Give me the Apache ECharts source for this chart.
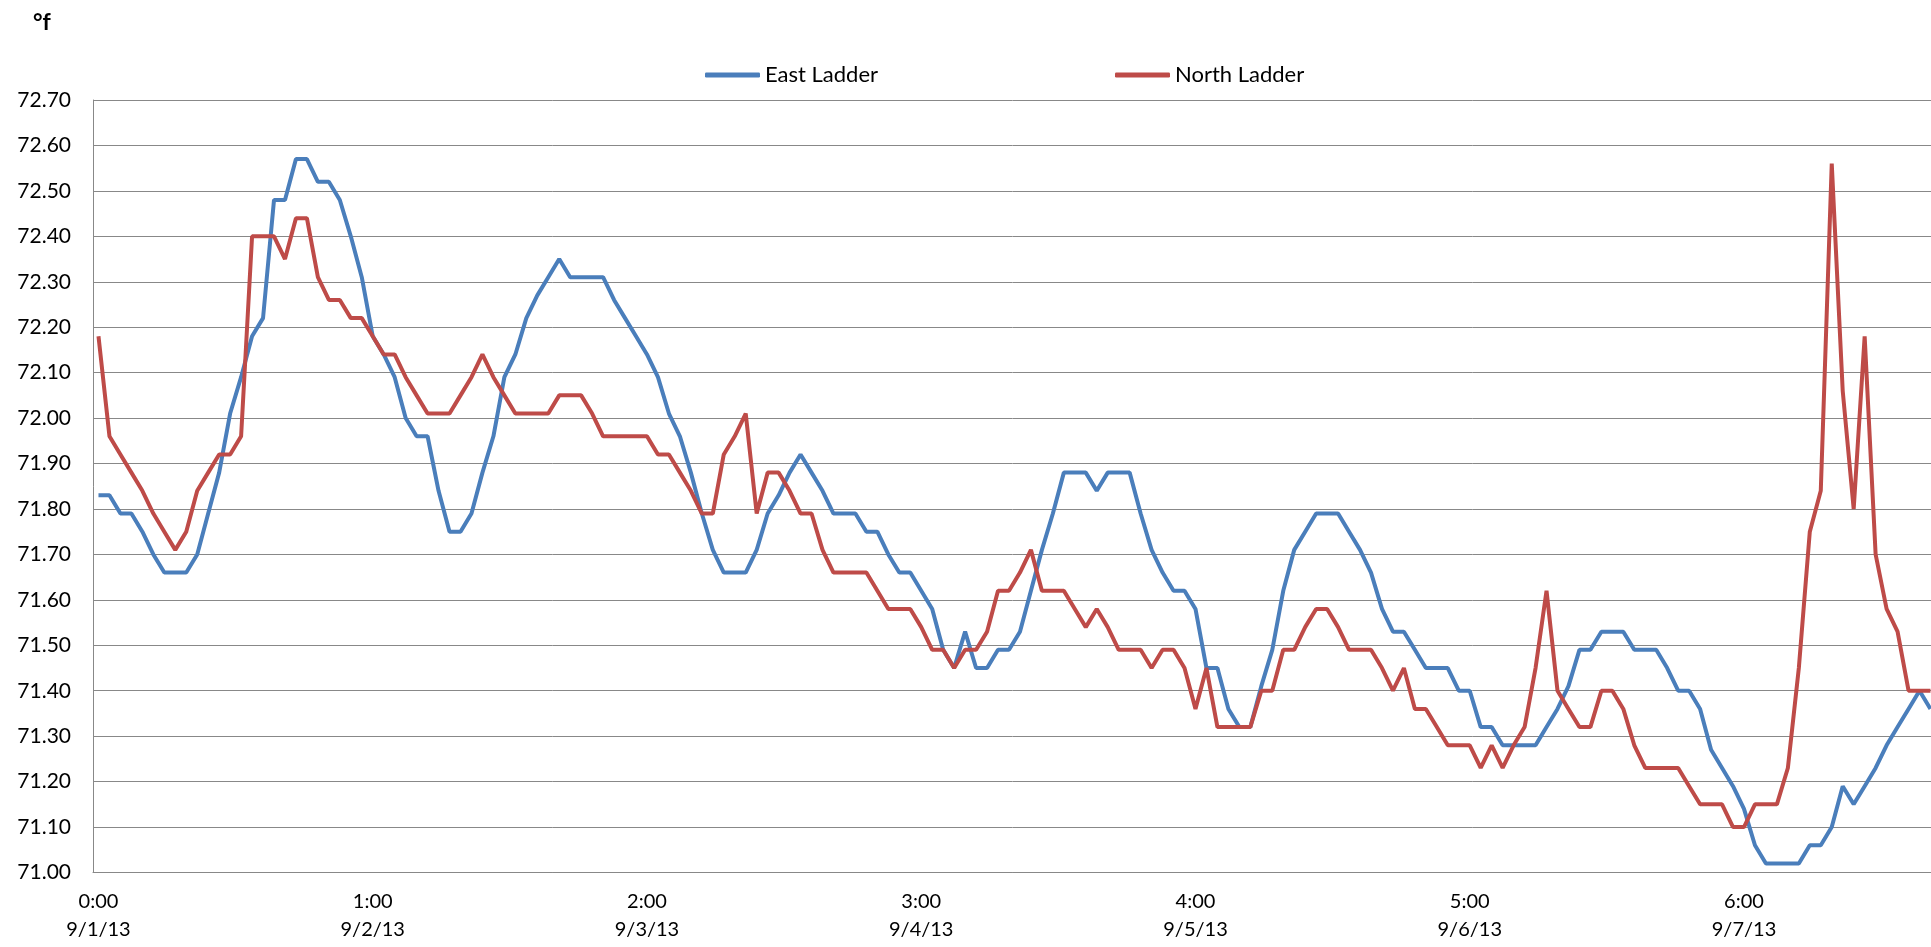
<!DOCTYPE html>
<html>
<head>
<meta charset="utf-8">
<script src="https://cdn.jsdelivr.net/npm/echarts@6/dist/echarts.min.js"></script>
<style>
    html, body { margin: 0; padding: 0; background: #fff; }
    #main { width: 1931px; height: 947px; }
</style>
</head>
<body>
<div id="main"></div>
<script>
// tick labels, one every 25 readings
const tickLabels = ['0:00\n9/1/13', '1:00\n9/2/13', '2:00\n9/3/13', '3:00\n9/4/13', '4:00\n9/5/13', '5:00\n9/6/13', '6:00\n9/7/13'];
const pointsPerTick = 25;

const eastLadder = [
    71.83, 71.83, 71.79, 71.79, 71.75, 71.70, 71.66, 71.66, 71.66, 71.70,
    71.79, 71.88, 72.01, 72.09, 72.18, 72.22, 72.48, 72.48, 72.57, 72.57,
    72.52, 72.52, 72.48, 72.40, 72.31, 72.18, 72.14, 72.09, 72.00, 71.96,
    71.96, 71.84, 71.75, 71.75, 71.79, 71.88, 71.96, 72.09, 72.14, 72.22,
    72.27, 72.31, 72.35, 72.31, 72.31, 72.31, 72.31, 72.26, 72.22, 72.18,
    72.14, 72.09, 72.01, 71.96, 71.88, 71.79, 71.71, 71.66, 71.66, 71.66,
    71.71, 71.79, 71.83, 71.88, 71.92, 71.88, 71.84, 71.79, 71.79, 71.79,
    71.75, 71.75, 71.70, 71.66, 71.66, 71.62, 71.58, 71.49, 71.45, 71.53,
    71.45, 71.45, 71.49, 71.49, 71.53, 71.62, 71.71, 71.79, 71.88, 71.88,
    71.88, 71.84, 71.88, 71.88, 71.88, 71.79, 71.71, 71.66, 71.62, 71.62,
    71.58, 71.45, 71.45, 71.36, 71.32, 71.32, 71.41, 71.49, 71.62, 71.71,
    71.75, 71.79, 71.79, 71.79, 71.75, 71.71, 71.66, 71.58, 71.53, 71.53,
    71.49, 71.45, 71.45, 71.45, 71.40, 71.40, 71.32, 71.32, 71.28, 71.28,
    71.28, 71.28, 71.32, 71.36, 71.41, 71.49, 71.49, 71.53, 71.53, 71.53,
    71.49, 71.49, 71.49, 71.45, 71.40, 71.40, 71.36, 71.27, 71.23, 71.19,
    71.14, 71.06, 71.02, 71.02, 71.02, 71.02, 71.06, 71.06, 71.10, 71.19,
    71.15, 71.19, 71.23, 71.28, 71.32, 71.36, 71.40, 71.36
];

const northLadder = [
    72.18, 71.96, 71.92, 71.88, 71.84, 71.79, 71.75, 71.71, 71.75, 71.84,
    71.88, 71.92, 71.92, 71.96, 72.40, 72.40, 72.40, 72.35, 72.44, 72.44,
    72.31, 72.26, 72.26, 72.22, 72.22, 72.18, 72.14, 72.14, 72.09, 72.05,
    72.01, 72.01, 72.01, 72.05, 72.09, 72.14, 72.09, 72.05, 72.01, 72.01,
    72.01, 72.01, 72.05, 72.05, 72.05, 72.01, 71.96, 71.96, 71.96, 71.96,
    71.96, 71.92, 71.92, 71.88, 71.84, 71.79, 71.79, 71.92, 71.96, 72.01,
    71.79, 71.88, 71.88, 71.84, 71.79, 71.79, 71.71, 71.66, 71.66, 71.66,
    71.66, 71.62, 71.58, 71.58, 71.58, 71.54, 71.49, 71.49, 71.45, 71.49,
    71.49, 71.53, 71.62, 71.62, 71.66, 71.71, 71.62, 71.62, 71.62, 71.58,
    71.54, 71.58, 71.54, 71.49, 71.49, 71.49, 71.45, 71.49, 71.49, 71.45,
    71.36, 71.45, 71.32, 71.32, 71.32, 71.32, 71.40, 71.40, 71.49, 71.49,
    71.54, 71.58, 71.58, 71.54, 71.49, 71.49, 71.49, 71.45, 71.40, 71.45,
    71.36, 71.36, 71.32, 71.28, 71.28, 71.28, 71.23, 71.28, 71.23, 71.28,
    71.32, 71.45, 71.62, 71.40, 71.36, 71.32, 71.32, 71.40, 71.40, 71.36,
    71.28, 71.23, 71.23, 71.23, 71.23, 71.19, 71.15, 71.15, 71.15, 71.10,
    71.10, 71.15, 71.15, 71.15, 71.23, 71.45, 71.75, 71.84, 72.56, 72.06,
    71.80, 72.18, 71.70, 71.58, 71.53, 71.40, 71.40, 71.40
];

const categories = eastLadder.map((v, i) => String(i));

const font = 'Lato, "Open Sans", sans-serif';
const gridColor = '#888888';
const catWidth = 10.97; // px per reading, the plot runs past the right edge

const myChart = echarts.init(document.getElementById('main'));
const option = {
    animation: false,
    backgroundColor: '#fff',
    title: {
        text: '°f',
        left: 28,
        top: 6,
        textStyle: { fontFamily: font, fontSize: 23, fontWeight: 'bold', color: '#000' }
    },
    legend: [
        {
            data: ['East Ladder'],
            left: 700,
            top: 59,
            icon: 'roundRect',
            itemWidth: 55,
            itemHeight: 5,
            itemGap: 6,
            textStyle: { fontFamily: font, fontSize: 22, color: '#000' }
        },
        {
            data: ['North Ladder'],
            left: 1110,
            top: 59,
            icon: 'roundRect',
            itemWidth: 55,
            itemHeight: 5,
            itemGap: 6,
            textStyle: { fontFamily: font, fontSize: 22, color: '#000' }
        }
    ],
    grid: {
        left: 93,
        top: 100,
        width: catWidth * categories.length,
        height: 772.5,
        containLabel: false,
        outerBoundsMode: 'none'
    },
    xAxis: {
        type: 'category',
        data: categories,
        boundaryGap: true,
        axisLine: { show: true, lineStyle: { color: gridColor, width: 1 } },
        axisTick: { show: false },
        axisLabel: {
            interval: pointsPerTick - 1,
            margin: 15,
            fontFamily: font,
            fontSize: 20,
            lineHeight: 28,
            color: '#000',
            formatter: (v, idx) => tickLabels[Math.round(idx / pointsPerTick)] || ''
        },
        splitLine: { show: false }
    },
    yAxis: {
        type: 'value',
        min: 71,
        max: 72.7,
        interval: 0.1,
        axisLine: { show: true, lineStyle: { color: gridColor, width: 1 } },
        axisTick: { show: false },
        axisLabel: {
            margin: 22,
            fontFamily: font,
            fontSize: 21,
            color: '#000',
            formatter: v => v.toFixed(2)
        },
        splitLine: { show: true, lineStyle: { color: gridColor, width: 1 } }
    },
    series: [
        {
            name: 'East Ladder',
            type: 'line',
            data: eastLadder,
            showSymbol: false,
            symbol: 'none',
            lineStyle: { color: '#4A7EBB', width: 4 },
            itemStyle: { color: '#4A7EBB' }
        },
        {
            name: 'North Ladder',
            type: 'line',
            data: northLadder,
            showSymbol: false,
            symbol: 'none',
            lineStyle: { color: '#BE4B48', width: 4 },
            itemStyle: { color: '#BE4B48' }
        }
    ]
};
myChart.setOption(option);
window.addEventListener('resize', () => { myChart.resize(); });
</script>
</body>
</html>
